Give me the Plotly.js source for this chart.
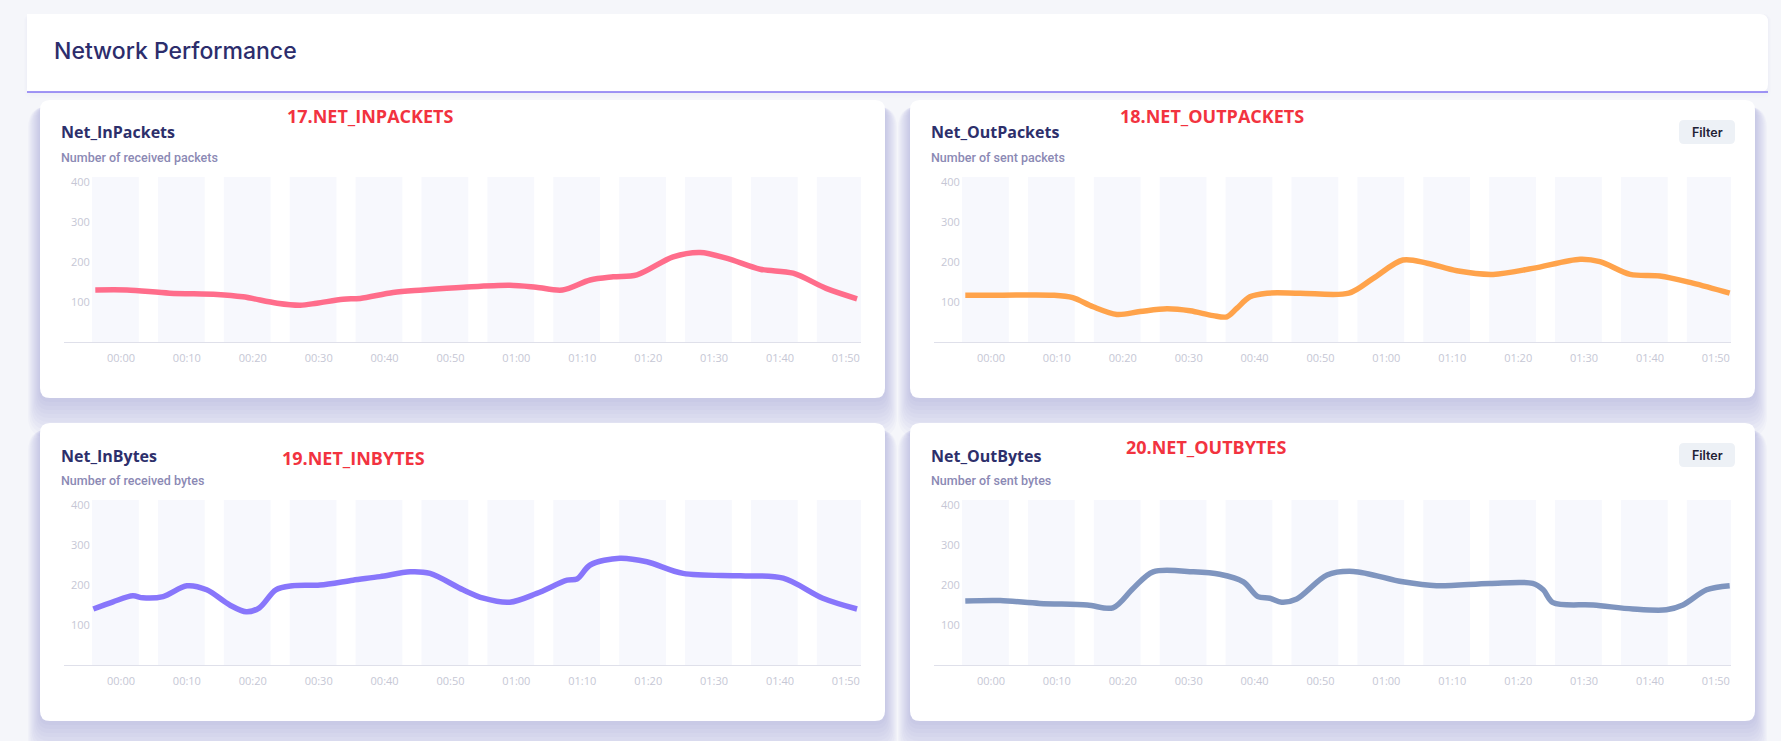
<!DOCTYPE html>
<html>
<head>
<meta charset="utf-8">
<script src="https://cdn.plot.ly/plotly-3.0.1.min.js"></script>
<style>
html,body{margin:0;padding:0;background:#f5f6fa;}
#chart{width:1781px;height:741px;}
</style>
</head>
<body>
<div id="chart"></div>
<script>
// ---------- DATA ----------
const tickMinutes = [0, 10, 20, 30, 40, 50, 60, 70, 80, 90, 100, 110];
const tickLabels = ["00:00","00:10","00:20","00:30","00:40","00:50","01:00","01:10","01:20","01:30","01:40","01:50"];
const yTicks = [100, 200, 300, 400];

const inPacketsTime = [-3.9, 0.9, 7.4, 14.6, 18.5, 23.7, 27.2, 29.7, 33.7, 36.3, 41.3, 45.8, 52, 59, 63, 67, 71.2, 74.7, 78.3, 83.8, 87.9, 92, 97, 102, 107, 111.7];
const inPacketsVal  = [130, 130, 122, 119, 113, 97, 92, 97, 107, 109, 124, 130, 137, 142, 137, 130, 155, 163, 168, 213, 224, 209, 182, 172, 134, 108];

const outPacketsTime = [-3.9, 1.4, 9.4, 12.4, 15.5, 19.1, 22.6, 26.7, 30.2, 33.7, 35.8, 37.3, 39.3, 41.9, 46.9, 54.3, 58, 62.5, 66.2, 70.7, 76.2, 82.2, 89.4, 92.4, 97, 101.5, 106.5, 112.1];
const outPacketsVal  = [117, 117, 117, 111, 88, 69, 76, 83, 78, 66, 63, 84, 113, 122, 122, 122, 159, 205, 197, 178, 169, 184, 207, 201, 169, 165, 147, 122];

const inBytesTime = [-4.2, -1.2, 1.8, 3.3, 6.4, 10, 13, 16.5, 19, 21, 23.5, 26, 30.2, 35.2, 39.3, 43.9, 46.9, 51.9, 55, 59, 63.1, 67.7, 69.2, 71.2, 75.7, 79.8, 85.3, 94, 100.5, 106.5, 111.7];
const inBytesVal  = [140, 158, 173, 168, 171, 198, 188, 150, 133, 143, 188, 198, 200, 212, 221, 233, 229, 188, 167, 157, 179, 212, 215, 250, 267, 258, 229, 223, 217, 167, 140];

const outBytesTime = [-3.9, 1.4, 7.4, 14.6, 18.5, 21.6, 24.6, 30.7, 34.7, 38.3, 40.5, 42.3, 44.1, 46.4, 51, 55, 62.5, 67.6, 75.7, 82.2, 83.8, 85.3, 91.4, 97.4, 102.5, 105, 108.6, 112.1];
const outBytesVal  = [160, 161, 154, 150, 143, 192, 233, 233, 227, 208, 171, 167, 157, 165, 225, 234, 208, 198, 204, 204, 188, 156, 150, 140, 138, 150, 188, 198];

const panelTitles = ["Net_InPackets", "Net_OutPackets", "Net_InBytes", "Net_OutBytes"];
const panelSubtitles = ["Number of received packets", "Number of sent packets", "Number of received bytes", "Number of sent bytes"];
const panelTags = ["17.NET_INPACKETS", "18.NET_OUTPACKETS", "19.NET_INBYTES", "20.NET_OUTBYTES"];
const pageTitle = "Network Performance";
const buttonLabel = "Filter";

// ---------- LAYOUT HELPERS ----------
const W = 1781, H = 741;
const px = x => x / W;
const py = y => 1 - y / H;

function rrect(x0, y0, x1, y1, r) {
  const P = (x, y) => px(x) + ',' + py(y);
  return 'M' + P(x0 + r, y0) + ' L' + P(x1 - r, y0) + ' Q' + P(x1, y0) + ' ' + P(x1, y0 + r) +
    ' L' + P(x1, y1 - r) + ' Q' + P(x1, y1) + ' ' + P(x1 - r, y1) +
    ' L' + P(x0 + r, y1) + ' Q' + P(x0, y1) + ' ' + P(x0, y1 - r) +
    ' L' + P(x0, y0 + r) + ' Q' + P(x0, y0) + ' ' + P(x0 + r, y0) + ' Z';
}

const cards = [
  {x0: 40, y0: 100, x1: 885, y1: 398},
  {x0: 910, y0: 100, x1: 1755, y1: 398},
  {x0: 40, y0: 423, x1: 885, y1: 721},
  {x0: 910, y0: 423, x1: 1755, y1: 721}
];
const panels = [
  {sx: '', xl: 64, xr: 861, yb: 342, yt: 177, color: '#ff6d8b', t: inPacketsTime, v: inPacketsVal, filter: false, tagX: 285, tagY: 116, ty: 132, sy: 157, tx: 59},
  {sx: '2', xl: 934, xr: 1731, yb: 342, yt: 177, color: '#ffa34b', t: outPacketsTime, v: outPacketsVal, filter: true, fy: 132, tagX: 1118, tagY: 116, ty: 132, sy: 157, tx: 929},
  {sx: '3', xl: 64, xr: 861, yb: 665, yt: 500, color: '#8876fb', t: inBytesTime, v: inBytesVal, filter: false, tagX: 280, tagY: 458, ty: 456, sy: 480, tx: 59},
  {sx: '4', xl: 934, xr: 1731, yb: 665, yt: 500, color: '#7f95bf', t: outBytesTime, v: outBytesVal, filter: true, fy: 455, tagX: 1124, tagY: 447, ty: 456, sy: 480, tx: 929}
];

const shapes = [];
const annotations = [];
const traces = [];
const layout = {
  width: W, height: H,
  margin: {l: 0, r: 0, t: 0, b: 0},
  paper_bgcolor: '#f5f6fa',
  plot_bgcolor: 'rgba(0,0,0,0)',
  showlegend: false,
  hovermode: false,
  font: {family: 'Roboto, sans-serif'}
};

// card shadows (mostly downward, lavender)
cards.forEach(c => {
  for (let k = 1; k <= 10; k++) {
    const e = k * 4;
    shapes.push({type: 'path', xref: 'paper', yref: 'paper', layer: 'below',
      path: rrect(c.x0 - e * 0.3, c.y0 + 6, c.x1 + e * 0.3, c.y1 + e, 10 + e * 0.3),
      fillcolor: 'rgba(125,105,200,0.036)', line: {width: 0}});
  }
});
// header
for (let k = 1; k <= 3; k++) {
  const e = k * 2;
  shapes.push({type: 'path', xref: 'paper', yref: 'paper', layer: 'below',
    path: rrect(27 - e * 0.5, 14, 1768 + e * 0.5, 92 + e, 8),
    fillcolor: 'rgba(125,105,200,0.012)', line: {width: 0}});
}
shapes.push({type: 'path', xref: 'paper', yref: 'paper', layer: 'below',
  path: rrect(27, 14, 1768, 92, 8), fillcolor: '#ffffff', line: {width: 0}});
shapes.push({type: 'rect', xref: 'paper', yref: 'paper', layer: 'below',
  x0: px(27), x1: px(27 + 10), y0: py(92), y1: py(14), fillcolor: '#ffffff', line: {width: 0}});
shapes.push({type: 'line', xref: 'paper', yref: 'paper', layer: 'below',
  x0: px(27), x1: px(1768), y0: py(92), y1: py(92), line: {color: '#8273f2', width: 1.5}});

// cards
cards.forEach(c => {
  shapes.push({type: 'path', xref: 'paper', yref: 'paper', layer: 'below',
    path: rrect(c.x0, c.y0, c.x1, c.y1, 10), fillcolor: '#ffffff', line: {width: 0}});
});

annotations.push({xref: 'paper', yref: 'paper', x: px(52), y: py(51), xanchor: 'left', yanchor: 'middle',
  text: pageTitle, showarrow: false, font: {family: 'Inter, sans-serif', size: 23, weight: 500, color: '#2c2d6c'}});

panels.forEach((p, i) => {
  const xa = 'xaxis' + p.sx, ya = 'yaxis' + p.sx;
  const xr = [-8.65, 112.3];
  const topPad = 15;
  const stripeTop = (p.yb - p.yt) / 0.4;
  const ymax = (p.yb - (p.yt - topPad)) / 0.4;
  layout[xa] = {
    domain: [px(p.xl), px(p.xr)], range: xr, anchor: 'y' + p.sx,
    tickmode: 'array', tickvals: tickMinutes, ticktext: tickLabels,
    showline: true, linecolor: '#dfe0ea', linewidth: 1.2,
    ticks: 'outside', ticklen: 6, tickcolor: 'rgba(0,0,0,0)',
    tickfont: {family: 'Open Sans, sans-serif', size: 11, color: '#c6c7d5'},
    showgrid: false, zeroline: false, fixedrange: true
  };
  layout[ya] = {
    domain: [py(p.yb), py(p.yt - topPad)], range: [0, ymax], anchor: 'x' + p.sx,
    tickmode: 'array', tickvals: yTicks,
    ticklabelposition: 'inside', ticks: '', ticklabelstandoff: 4,
    tickfont: {family: 'Open Sans, sans-serif', size: 11, color: '#c6c7d5'},
    showline: false, showgrid: false, zeroline: false, fixedrange: true
  };
  tickMinutes.forEach(t => {
    shapes.push({type: 'rect', xref: 'x' + p.sx, yref: 'y' + p.sx, layer: 'below',
      x0: t - 4.4, x1: t + 2.7, y0: 0, y1: stripeTop, fillcolor: '#f7f8fd', line: {width: 0}});
  });
  traces.push({type: 'scatter', mode: 'lines', x: p.t, y: p.v,
    xaxis: 'x' + p.sx, yaxis: 'y' + p.sx, cliponaxis: false,
    line: {color: p.color, width: 5.5, shape: 'spline', smoothing: 0.9}});

  annotations.push({xref: 'paper', yref: 'paper', x: px(p.tx), y: py(p.ty), xanchor: 'left', yanchor: 'middle',
    text: panelTitles[i], showarrow: false, font: {family: 'Open Sans, sans-serif', size: 16, weight: 700, color: '#2d2f6b'}});
  annotations.push({xref: 'paper', yref: 'paper', x: px(p.tx), y: py(p.sy), xanchor: 'left', yanchor: 'middle',
    text: panelSubtitles[i], showarrow: false, font: {family: 'Roboto, sans-serif', size: 12.5, weight: 500, color: '#8b89b4'}});
  annotations.push({xref: 'paper', yref: 'paper', x: px(p.tagX), y: py(p.tagY), xanchor: 'left', yanchor: 'middle',
    text: panelTags[i], showarrow: false, font: {family: 'Open Sans, sans-serif', size: 18, weight: 700, color: '#f2333f'}});
  if (p.filter) {
    shapes.push({type: 'path', xref: 'paper', yref: 'paper', layer: 'below',
      path: rrect(1679, p.fy - 12, 1735, p.fy + 12, 5), fillcolor: '#edf1f6', line: {width: 0}});
    annotations.push({xref: 'paper', yref: 'paper', x: px(1707), y: py(p.fy), xanchor: 'center', yanchor: 'middle',
      text: buttonLabel, showarrow: false, font: {family: 'Inter, sans-serif', size: 12.5, weight: 600, color: '#1f2235'}});
  }
});

layout.shapes = shapes;
layout.annotations = annotations;
Plotly.newPlot('chart', traces, layout, {staticPlot: true, displayModeBar: false});
</script>
</body>
</html>
